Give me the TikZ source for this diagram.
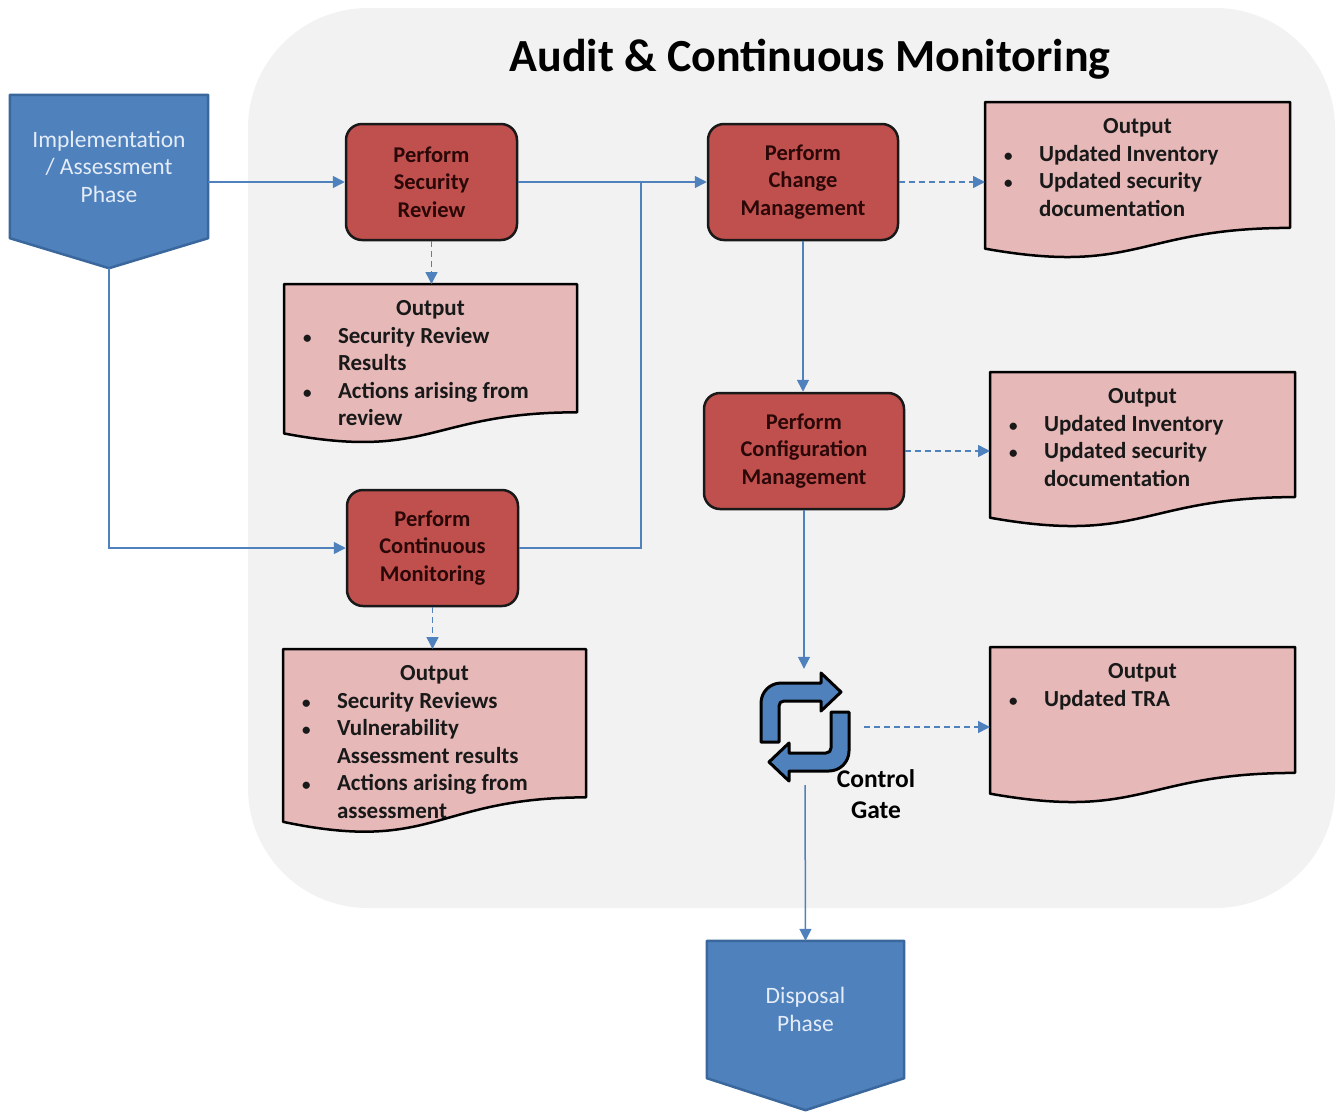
\documentclass[tikz,border=0pt]{standalone}
\usepackage{fontspec}
\setmainfont{Carlito}
\usetikzlibrary{arrows.meta,calc}
\pgfdeclarelayer{bg}
\pgfdeclarelayer{docs}
\pgfsetlayers{bg,docs,main}
\definecolor{bgGray}{HTML}{F2F2F2}
\definecolor{procRed}{HTML}{C0504D}
\definecolor{docPink}{HTML}{E6B9B8}
\definecolor{phaseBlue}{HTML}{4F81BD}
\definecolor{phaseEdge}{HTML}{3A679C}
\definecolor{lineBlue}{HTML}{4F81BD}
\definecolor{procText}{HTML}{2A0808}
\definecolor{phaseText}{HTML}{E4ECF7}
\newcommand\docitem[1]{\par\noindent\hangindent=54pt\hangafter=1\makebox[54pt][l]{\hspace{19pt}{\fontsize{17}{17}\selectfont\textbullet}}#1}
\newcommand\doctext[3]{\parbox[c][#2pt][t]{#1pt}{\fontsize{23}{27.5}\selectfont\bfseries\vspace*{12.5pt}{\centering Output\strut\par}#3}}
\newcommand\docdraw[1]{%
  \begin{pgfonlayer}{docs}
  \filldraw[fill=docPink, draw=black, line width=2.5pt, line join=round]
    (#1.north west) -- (#1.north east) -- ($(#1.north east)!0.802!(#1.south east)$)
    .. controls ($(#1.north)!0.802!(#1.south)$) and ($(#1.north)!1.1076!(#1.south)$) ..
    ($(#1.north west)!0.934!(#1.south west)$) -- cycle;
  \end{pgfonlayer}}
\newcommand\phasedraw[2]{%
  \begin{pgfonlayer}{docs}
  \filldraw[fill=phaseBlue, draw=phaseEdge, line width=2.5pt, line join=round]
    (#1.north west) -- (#1.north east) -- (#1.south east) -- ($(#1.south)+(0,#2)$) -- (#1.south west) -- cycle;
  \end{pgfonlayer}}
\newcommand\gatearrow{%
  \filldraw[fill=phaseBlue, draw=black, line width=3pt, line join=round]
    (-44,15) -- (-44,-24) .. controls (-44,-35) and (-35,-44) .. (-24,-44) -- (16,-44) -- (16,-54)
    -- (36,-35) -- (16,-16) -- (16,-26) -- (-21,-26) .. controls (-24,-26) and (-26,-24) .. (-26,-21)
    -- (-26,15) -- cycle;}
\tikzset{
  proc/.style={rounded corners=16pt, fill=procRed, draw=black!90, line width=2.5pt, text=procText,
    font=\bfseries\fontsize{22.5}{27.5}\selectfont, align=center, inner sep=0pt, minimum height=116pt},
  phase/.style={inner sep=0pt, text=phaseText, font=\fontsize{23.5}{27.5}\selectfont, align=center},
  docnode/.style={inner sep=0pt, outer sep=0pt, anchor=north west, text=black!90},
  flow/.style={draw=lineBlue, line width=1.5pt, -{Triangle[length=12pt,width=12pt]}},
  dflow/.style={flow, dash pattern=on 6pt off 4pt},
  link/.style={draw=lineBlue, line width=1.5pt},
}
\begin{document}
\begin{tikzpicture}[x=1pt,y=-1pt]
\useasboundingbox (0,0) rectangle (1341,1112);
\begin{pgfonlayer}{bg}
  \fill[bgGray, rounded corners=120pt] (248,8) rectangle (1335,908);
\end{pgfonlayer}
\node[font=\bfseries\fontsize{46}{54}\selectfont] (title) at (810,59) {Audit \& Continuous Monitoring};

% phases
\node[phase, minimum width=198pt, minimum height=143pt] (impl) at (109,166.5) {Implementation\\/ Assessment\\Phase};
\phasedraw{impl}{30}
\coordinate (impltip) at ($(impl.south)+(0,30)$);
\node[phase, minimum width=197pt, minimum height=137pt] (disp) at (805.5,1009.5) {Disposal\\Phase};
\phasedraw{disp}{32}

% process boxes
\node[proc, minimum width=171pt] (sr) at (431.5,182) {Perform\\Security\\Review};
\node[proc, minimum width=190pt] (cg) at (803,182) {Perform\\Change\\Management};
\node[proc, minimum width=200pt] (cfg) at (804,451) {Perform\\Configuration\\Management};
\node[proc, minimum width=171pt] (cm) at (432.5,548) {Perform\\Continuous\\Monitoring};

% documents
\node[docnode] (o1) at (985,102) {\doctext{305}{157}{\docitem{Updated Inventory}\docitem{Updated security\newline documentation}}};
\docdraw{o1}
\node[docnode] (o2) at (284,284) {\doctext{293}{160}{\docitem{Security Review\newline Results}\docitem{Actions arising from\newline review}}};
\docdraw{o2}
\node[docnode] (o3) at (283,649) {\doctext{303}{185}{\docitem{Security Reviews}\docitem{Vulnerability\newline Assessment results}\docitem{Actions arising from\newline assessment}}};
\docdraw{o3}
\node[docnode] (o4) at (990,372) {\doctext{305}{156}{\docitem{Updated Inventory}\docitem{Updated security\newline documentation}}};
\docdraw{o4}
\node[docnode] (o5) at (990,647) {\doctext{305}{157}{\docitem{Updated TRA}}};
\docdraw{o5}

% control gate
\node[inner sep=0pt, minimum width=90pt, minimum height=116pt] (gate) at (805,727) {};
\begin{scope}[shift={(gate.center)}]
  \gatearrow
\end{scope}
\begin{scope}[shift={(gate.center)}, rotate=180]
  \gatearrow
\end{scope}
\node[font=\bfseries\fontsize{25.5}{31}\selectfont, align=center, inner sep=0pt] (gatelbl) at (876,794) {Control\\Gate};

% connectors
\coordinate (join) at (641,182);
\draw[flow] (sr.west -| impl.east) -- (sr.west);
\draw[flow] (impltip) |- (cm.west);
\draw[flow] (sr.east) -- (cg.west);
\draw[link] (cm.east) -| (join);
\draw[dflow] (sr.south) -- (sr.south |- o2.north);
\draw[dflow] (cm.south) -- (cm.south |- o3.north);
\draw[dflow] (cg.east) -- (cg.east -| o1.west);
\draw[flow] (cg.south) -- (cg.south |- cfg.north);
\draw[dflow] (cfg.east) -- (cfg.east -| o4.west);
\draw[flow] (cfg.south) -- (cfg.south |- gate.north);
\draw[dflow, shorten <=14pt] (gate.east) -- (gate.east -| o5.west);
\draw[flow] (gate.south) -- (disp.north);
\end{tikzpicture}
\end{document}
